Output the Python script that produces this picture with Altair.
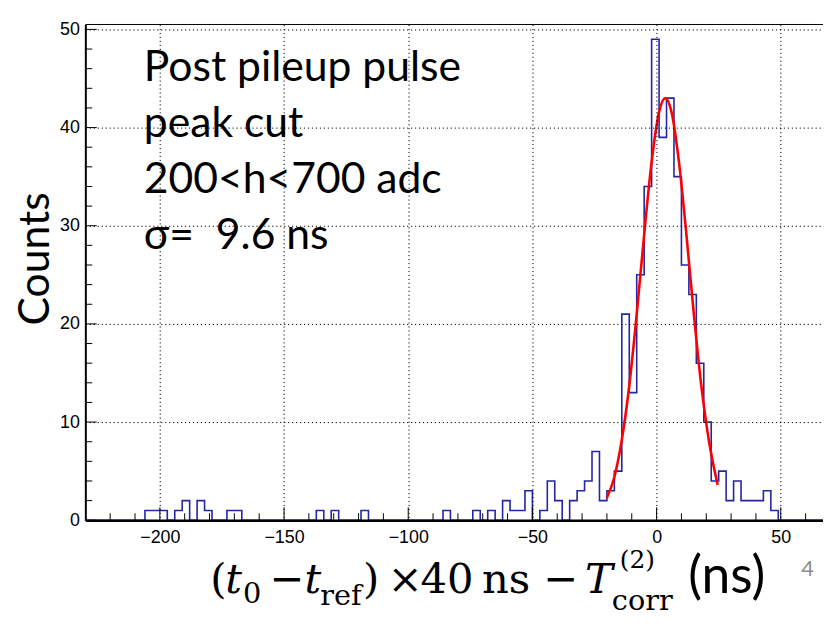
import altair as alt
import pandas as pd

# ---------------- data ----------------
bin_start = -230.0
bin_width = 3.0
counts = [
    0, 0, 0, 0, 0, 0, 0, 0, 1, 1,
    1, 0, 1, 2, 0, 2, 1, 0, 0, 1,
    1, 0, 0, 0, 0, 0, 0, 0, 0, 0,
    0, 1, 0, 1, 0, 0, 0, 1, 0, 0,
    0, 0, 0, 0, 0, 0, 0, 0, 1, 0,
    0, 0, 1, 0, 1, 0, 2, 1, 1, 3,
    0, 1, 4, 2, 0, 2, 3, 4, 7, 2,
    3, 5, 21, 13, 25, 34, 49, 39, 43, 35,
    26, 23, 16, 10, 4, 5, 2, 4, 2, 2,
    2, 3, 1, 0, 0, 0, 0, 0, 0, 0,
]
fit_x = [-20, -17, -14, -11, -8, -5, -2, 1, 3.5, 6, 9, 12, 15, 18, 21, 24.6]
fit_y = [2.3, 4.4, 8.2, 13.7, 21.0, 29.1, 36.5, 41.6, 43.0, 41.6, 36.5, 29.1, 21.0, 13.7, 8.2, 3.6]

x_major = [-200, -150, -100, -50, 0, 50]
x_minor = [-220, -210, -190, -180, -170, -160, -140, -130, -120, -110,
           -90, -80, -70, -60, -40, -30, -20, -10, 10, 20, 30, 40, 60]
y_major = [0, 10, 20, 30, 40, 50]
y_minor = [2, 4, 6, 8, 12, 14, 16, 18, 22, 24, 26, 28, 32, 34, 36, 38, 42, 44, 46, 48]

info_lines = ["Post pileup pulse", "peak cut", "200<h<700 adc", "σ=\u00a0 9.6 ns"]
y_title = "Counts"

# ---------------- layout ----------------
W, H = 744, 500
xs = alt.Scale(domain=[-230, 67], nice=False, zero=False)
ys = alt.Scale(domain=[0, 50.5], nice=False, zero=False)

x_axis = alt.Axis(
    values=x_major, format="d", grid=True, gridDash=[1.2, 2.8], gridColor="black",
    gridOpacity=1, gridWidth=1, tickSize=0, labelFont="Liberation Sans",
    labelFontSize=18, labelColor="black", labelPadding=8, domainColor="black",
    domainWidth=2.5, title=None, zindex=1)
y_axis = alt.Axis(
    values=y_major, format="d", grid=True, gridDash=[1.2, 2.8], gridColor="black",
    gridOpacity=1, gridWidth=1, tickSize=0, labelFont="Liberation Sans",
    labelFontSize=18, labelColor="black", labelPadding=6, domainColor="black",
    domainWidth=2, title=y_title, titleFont="Lato", titleFontSize=43,
    titleFontWeight="normal", titleColor="black", titleX=-50, titleY=236,
    titleAlign="center", titleBaseline="middle", titleAngle=270, zindex=1)

edges = [bin_start + bin_width * i for i in range(len(counts) + 1)]
hist_df = pd.DataFrame({"x": edges, "y": counts + [0]})
fit_df = pd.DataFrame({"x": fit_x, "y": fit_y})

hist = alt.Chart(hist_df).mark_line(
    interpolate="step-after", color="#2424a4", strokeWidth=1.6, clip=True
).encode(
    x=alt.X("x:Q", scale=xs, axis=x_axis),
    y=alt.Y("y:Q", scale=ys, axis=y_axis),
)

fit = alt.Chart(fit_df).mark_line(
    color="#ff0000", strokeWidth=2.6, interpolate="monotone", clip=True
).encode(
    x=alt.X("x:Q", scale=xs, axis=x_axis),
    y=alt.Y("y:Q", scale=ys, axis=y_axis),
)


def xticks(vals, length):
    return alt.Chart(pd.DataFrame({"x": vals})).mark_rule(color="black", strokeWidth=1).encode(
        x=alt.X("x:Q", scale=xs, axis=x_axis), y=alt.value(H), y2=alt.value(H - length))


def yticks(vals, length):
    return alt.Chart(pd.DataFrame({"y": vals})).mark_rule(color="black", strokeWidth=1).encode(
        y=alt.Y("y:Q", scale=ys, axis=y_axis), x=alt.value(0), x2=alt.value(length))


frame_top = alt.Chart(pd.DataFrame({"k": [0]})).mark_rule(color="black", strokeWidth=1).encode(
    x=alt.value(0), x2=alt.value(W), y=alt.value(0))


def txt(s, x, y, size, font, style="normal", color="black", align="left"):
    return alt.Chart(pd.DataFrame({"t": [s]})).mark_text(
        align=align, baseline="alphabetic", font=font, fontSize=size,
        fontStyle=style, color=color).encode(
        x=alt.value(x), y=alt.value(y), text="t:N")


layers = [hist, fit, xticks(x_major, 13), xticks(x_minor, 7),
          yticks(y_major, 11.5), yticks(y_minor, 7), frame_top]

# info text block
for k, line in enumerate(info_lines):
    layers.append(txt(line, 59, 56.6 + 56.7 * k, 43, "Lato"))

# x-axis title pieces (page coordinates, converted to plot origin)
ox, oy = 86, 21.7
base = 595
serif = "DejaVu Serif"
M, S = 42, 29
pieces = [
    ("(", 212, base, M, serif, "normal"),
    ("t", 227, base, M, serif, "italic"),
    ("0", 245, base + 10, S, serif, "normal"),
    ("−", 272, base, M, serif, "normal"),
    ("t", 307, base, M, serif, "italic"),
    ("ref", 323, base + 12, S, serif, "normal"),
    (")", 366, base, M, serif, "normal"),
    ("×", 391, base, M, serif, "normal"),
    ("40", 424, base, M, serif, "normal"),
    ("ns", 486, base, M, serif, "normal"),
    ("−", 548, base, M, serif, "normal"),
    ("T", 590, base, M, serif, "italic"),
    ("(2)", 625, base - 25, 25, serif, "normal"),
    ("corr", 617, base + 17, S, serif, "normal"),
    ("(ns)", 694, base, 52, "Lato", "normal"),
]
for s, px, py, size, font, style in pieces:
    layers.append(txt(s, px - ox, py - oy, size, font, style))

layers.append(txt("4", 808 - ox, 578 - oy, 22, "Lato", color="#8c8c8c"))

chart = alt.layer(*layers).properties(
    width=W, height=H,
    padding={"left": 78, "top": 14, "right": 0, "bottom": 100},
    autosize=alt.AutoSizeParams(type="none"),
    background="white",
).configure_view(stroke=None)

chart.save("out.html", embed_options={"renderer": "svg", "actions": False})
